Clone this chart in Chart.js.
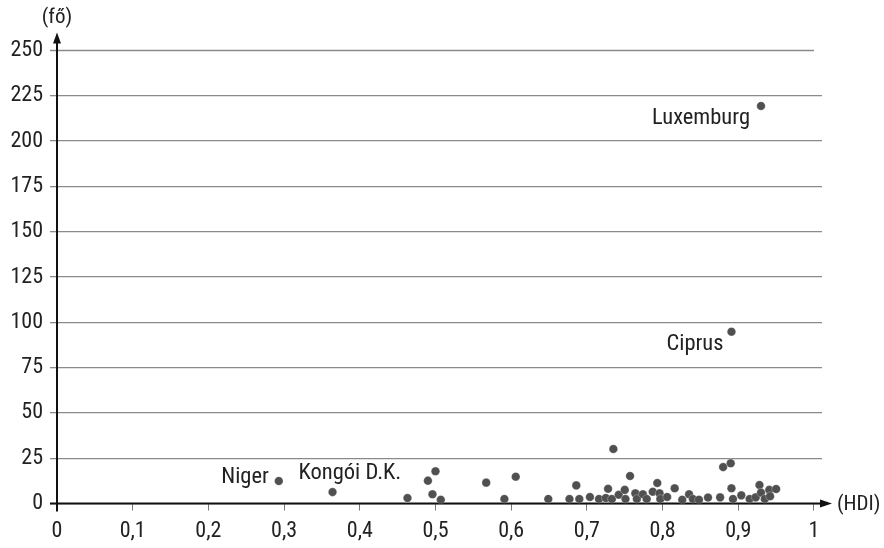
<!DOCTYPE html>
<html>
<head>
<meta charset="utf-8">
<script src="https://cdn.jsdelivr.net/npm/chart.js@4.4.1/dist/chart.umd.min.js"></script>
<style>
  body { margin: 0; background: #fff; }
  #wrap { width: 884px; height: 548px; }
</style>
</head>
<body>
<div id="wrap"><canvas id="hdiChart"></canvas></div>
<script>
// countries without a name on the chart
const hdi = [0.463, 0.490, 0.500, 0.496, 0.507, 0.567, 0.606, 0.591, 0.649, 0.735,
             0.686, 0.677, 0.690, 0.704, 0.716, 0.728, 0.725, 0.733, 0.742, 0.750,
             0.757, 0.751, 0.764, 0.766, 0.774, 0.779, 0.787, 0.793, 0.796, 0.797,
             0.806, 0.816, 0.826, 0.835, 0.840, 0.848, 0.860, 0.876, 0.880, 0.890,
             0.891, 0.893, 0.904, 0.915, 0.923, 0.928, 0.930, 0.935, 0.941, 0.942, 0.950];
const people = [3.0, 12.6, 17.8, 5.1, 2.1, 11.5, 14.8, 2.5, 2.5, 30.1,
                10.0, 2.5, 2.5, 3.6, 2.5, 8.1, 3.0, 2.5, 4.8, 7.5,
                15.2, 2.5, 5.6, 2.5, 5.1, 2.5, 6.5, 11.3, 5.6, 2.5,
                3.6, 8.4, 2.1, 5.1, 2.5, 2.1, 3.3, 3.4, 20.1, 22.2,
                8.4, 2.5, 4.5, 2.5, 3.4, 10.2, 6.0, 2.5, 7.5, 4.0, 8.0];

// named countries
const namedCountries = ['Niger', 'Kongói D.K.', 'Ciprus', 'Luxemburg'];
const namedHdi = [0.293, 0.364, 0.891, 0.930];
const namedPeople = [12.4, 6.3, 94.8, 219.4];

const xTicks = [0, 0.1, 0.2, 0.3, 0.4, 0.5, 0.6, 0.7, 0.8, 0.9, 1];
const yTicks = [0, 25, 50, 75, 100, 125, 150, 175, 200, 225, 250];

const FONT = '"Roboto Condensed", "Liberation Sans Narrow", Roboto, sans-serif';
const TEXT = '#222';

// label placement relative to the dot
const labelStyle = {
  'Niger':       { dx: -10, dy: -4, align: 'right' },
  'Kongói D.K.': { dx: -34, dy: -19, align: 'left' },
  'Ciprus':      { dx: -8,  dy: 13, align: 'right' },
  'Luxemburg':   { dx: -11, dy: 12, align: 'right' }
};

const points = hdi.map((v, i) => ({ x: v, y: people[i] }))
  .concat(namedHdi.map((v, i) => ({ x: v, y: namedPeople[i] })));

// axes with arrows, the shorter top gridline, axis titles
const axesPlugin = {
  id: 'axesPlugin',
  beforeDatasetsDraw(chart) {
    const { ctx, scales: { x, y } } = chart;
    const x0 = x.getPixelForValue(0), y0 = y.getPixelForValue(0);
    const yTop = y.getPixelForValue(250);
    ctx.save();
    // top gridline stops at HDI = 1
    ctx.strokeStyle = '#8a8a8a';
    ctx.lineWidth = 1.3;
    ctx.beginPath();
    ctx.moveTo(x0 - 7, yTop);
    ctx.lineTo(x.getPixelForValue(1), yTop);
    ctx.stroke();

    ctx.strokeStyle = '#111';
    ctx.fillStyle = '#111';
    ctx.lineWidth = 2;
    // y axis
    ctx.beginPath();
    ctx.moveTo(x0, y0 + 8);
    ctx.lineTo(x0, yTop - 8);
    ctx.stroke();
    ctx.beginPath();
    ctx.moveTo(x0, yTop - 18);
    ctx.lineTo(x0 - 4, yTop - 7);
    ctx.lineTo(x0 + 4, yTop - 7);
    ctx.closePath();
    ctx.fill();
    // x axis
    const xEnd = chart.chartArea.right;
    ctx.beginPath();
    ctx.moveTo(x0 - 7, y0);
    ctx.lineTo(xEnd, y0);
    ctx.stroke();
    ctx.beginPath();
    ctx.moveTo(xEnd + 10, y0);
    ctx.lineTo(xEnd - 2, y0 - 4);
    ctx.lineTo(xEnd - 2, y0 + 4);
    ctx.closePath();
    ctx.fill();

    ctx.fillStyle = TEXT;
    ctx.font = '21px ' + FONT;
    ctx.textBaseline = 'middle';
    ctx.textAlign = 'center';
    ctx.fillText('(fő)', x0, 18);
    ctx.textAlign = 'left';
    ctx.fillText('(HDI)', xEnd + 15, y0 + 1);
    ctx.restore();
  },
  afterDatasetsDraw(chart) {
    const { ctx, scales: { x, y } } = chart;
    ctx.save();
    ctx.fillStyle = TEXT;
    ctx.font = '22.5px ' + FONT;
    ctx.textBaseline = 'middle';
    namedCountries.forEach((name, i) => {
      const s = labelStyle[name];
      ctx.textAlign = s.align;
      ctx.fillText(name, x.getPixelForValue(namedHdi[i]) + s.dx, y.getPixelForValue(namedPeople[i]) + s.dy);
    });
    ctx.restore();
  }
};

const ctx = document.getElementById('hdiChart').getContext('2d');
const hdiChart = new Chart(ctx, {
  type: 'scatter',
  data: {
    datasets: [{
      data: points,
      backgroundColor: '#505050',
      borderColor: 'rgba(255,255,255,0.45)',
      borderWidth: 0.6,
      pointRadius: 4.3,
      pointHoverRadius: 4.3
    }]
  },
  options: {
    responsive: true,
    maintainAspectRatio: false,
    animation: false,
    layout: { padding: { top: 50.5, right: 62, left: 0, bottom: 0 } },
    plugins: {
      legend: { display: false },
      tooltip: { enabled: false }
    },
    scales: {
      x: {
        type: 'linear',
        min: 0,
        max: 1.0106,
        afterBuildTicks: (scale) => { scale.ticks = xTicks.map(v => ({ value: v })); },
        afterFit: (scale) => { scale.height = 44.5; },
        border: { display: false },
        grid: { drawOnChartArea: false, drawTicks: true, tickLength: 7, color: '#777', lineWidth: 1 },
        ticks: {
          color: TEXT,
          font: { family: FONT, size: 22 },
          padding: 8,
          maxRotation: 0,
          callback: (v) => String(v).replace('.', ',')
        }
      },
      y: {
        min: 0,
        max: 250,
        afterBuildTicks: (scale) => { scale.ticks = yTicks.map(v => ({ value: v })); },
        afterFit: (scale) => { scale.width = 57; },
        border: { display: false },
        grid: {
          tickLength: 7,
          lineWidth: 1.3,
          color: (c) => (c.tick && c.tick.value === 250) ? 'rgba(0,0,0,0)' : '#8a8a8a'
        },
        ticks: {
          color: TEXT,
          font: { family: FONT, size: 22 },
          padding: 7
        }
      }
    }
  },
  plugins: [axesPlugin]
});
</script>
</body>
</html>
